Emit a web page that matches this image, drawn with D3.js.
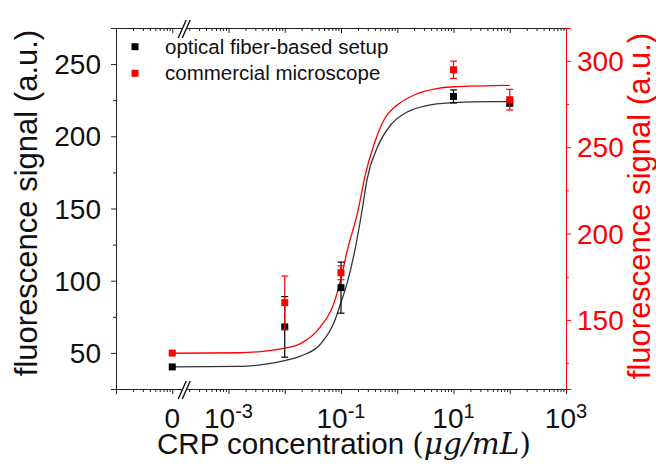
<!DOCTYPE html>
<html>
<head>
<meta charset="utf-8">
<script src="https://cdn.jsdelivr.net/npm/d3@7"></script>
<style>
  body { margin: 0; background: #fff; }
  svg { display: block; font-family: "Liberation Sans", Arial, sans-serif; }
</style>
</head>
<body>
<svg width="656" height="469"></svg>
<script>
// measured points (0 sits on the broken part of the log axis)
const conc = [0, 0.01, 0.1, 10, 100]
const fiberSignal = [40.3, 68, 95.2, 227.6, 223]
const fiberErr = [0, 21, 17.7, 4.5, 2]
const microSignal = [130.8, 160, 177.3, 294.8, 277.5]
const microErr = [0, 15.4, 4, 5, 6]

// fitted curves
const fiberFitConc = [1e-4, 1.6e-3, 4.2e-3, 9.5e-3, 0.019, 0.043, 0.075, 0.098, 0.13, 0.17, 0.24, 0.29, 0.44, 0.77, 1.5, 3.5, 10, 23, 100]
const fiberFitSignal = [40.3, 40.6, 42.0, 44.5, 47.8, 56, 71, 84, 99, 118, 150, 170, 192, 208, 216.8, 221.4, 223.3, 223.9, 224]
const microFitConc = [1e-4, 1.6e-3, 4.9e-3, 9.5e-3, 0.019, 0.043, 0.075, 0.098, 0.13, 0.2, 0.27, 0.39, 0.58, 1.0, 2.0, 4.5, 10, 100]
const microFitSignal = [130.7, 131, 132.1, 133.5, 136.3, 146, 159.7, 173, 190.5, 213, 234, 252, 265.7, 274.4, 280.2, 283.6, 285, 285.8]

const xTickExp = [-3, -1, 1, 3]
const leftTicks = [50, 100, 150, 200, 250]
const leftMinor = [75, 125, 175, 225]
const rightTicks = [150, 200, 250, 300]
const rightMinor = [125, 175, 225, 275]
const seriesNames = ['optical fiber-based setup', 'commercial microscope']

const zeroAt = 1e-4
const breakAt = 1.7e-4
const red = '#ff0000'

const svg = d3.select('svg')
const plot = {left: 116, right: 566, top: 28, bottom: 389}

const x = d3.scaleLog().domain([1e-5, 1e3]).range([plot.left, plot.right])
const yL = d3.scaleLinear().domain([25, 275]).range([plot.bottom, plot.top])
const yR = d3.scaleLinear().domain([110, 319]).range([plot.bottom, plot.top])
const xPos = c => x(c === 0 ? zeroAt : c)

drawChart()

function drawChart() {
    drawAxes()
    drawFit(fiberFitConc, fiberFitSignal, yL, '#333')
    drawFit(microFitConc, microFitSignal, yR, red)
    drawSeries(fiberSignal, fiberErr, yL, '#000')
    drawSeries(microSignal, microErr, yR, red)
    drawBreak(plot.bottom)
    drawBreak(plot.top)
    drawLegend()
}

function drawAxes() {
    const decades = d3.range(-5, 3)
    const minor = []
    decades.forEach(e => { for (let m = 2; m <= 9; m++) minor.push(m * Math.pow(10, e)) })
    const major = d3.range(-5, 4).map(e => Math.pow(10, e))

    // bottom + top x axes (top ticks point into the plot)
    ;[plot.bottom, plot.top].forEach(yy => {
        const g = svg.append('g').attr('transform', `translate(0,${yy})`)
        g.call(d3.axisBottom(x).tickValues(minor).tickSize(3).tickFormat(''))
        g.append('g').call(d3.axisBottom(x).tickValues(major).tickSize(5).tickFormat(''))
        g.selectAll('.domain, line').attr('stroke', '#222')
    })

    // x tick labels
    const xl = svg.append('g').attr('font-size', 28).attr('fill', '#111').attr('text-anchor', 'middle')
    xl.append('text').attr('x', x(zeroAt)).attr('y', 428).text('0')
    xTickExp.forEach(e => {
        const t = xl.append('text').attr('x', x(Math.pow(10, e))).attr('y', 428)
        t.append('tspan').text('10')
        t.append('tspan').attr('font-size', 20).attr('dy', -10).text(e)
    })

    // left axis
    const gl = svg.append('g').attr('transform', `translate(${plot.left},0)`)
    gl.call(d3.axisLeft(yL).tickValues(leftMinor).tickSize(3).tickFormat(''))
    gl.append('g').call(d3.axisLeft(yL).tickValues(leftTicks).tickSize(5).tickFormat(''))
    gl.selectAll('.domain, line').attr('stroke', '#222')
    svg.append('g').selectAll('text').data(leftTicks).join('text')
        .attr('x', 101).attr('y', d => yL(d) + 10)
        .attr('text-anchor', 'end').attr('font-size', 28).attr('fill', '#111')
        .text(d => d)

    // right axis
    const gr = svg.append('g').attr('transform', `translate(${plot.right},0)`)
    gr.call(d3.axisRight(yR).tickValues(rightMinor).tickSize(3).tickFormat(''))
    gr.append('g').call(d3.axisRight(yR).tickValues(rightTicks).tickSize(5).tickFormat(''))
    gr.selectAll('.domain, line').attr('stroke', red)
    svg.append('g').selectAll('text').data(rightTicks).join('text')
        .attr('x', 577).attr('y', d => yR(d) + 10)
        .attr('font-size', 28).attr('fill', red)
        .text(d => d)

    // titles
    svg.append('text')
        .attr('transform', 'translate(37,203) rotate(-90)')
        .attr('text-anchor', 'middle').attr('font-size', 31).attr('fill', '#111')
        .text('fluorescence signal (a.u.)')
    svg.append('text')
        .attr('transform', 'translate(650,206) rotate(-90)')
        .attr('text-anchor', 'middle').attr('font-size', 31).attr('fill', red)
        .text('fluorescence signal (a.u.)')
    const xt = svg.append('text')
        .attr('x', 344).attr('y', 454).attr('text-anchor', 'middle')
        .attr('font-size', 29.5).attr('fill', '#111')
    xt.append('tspan').text('CRP concentration ')
    xt.append('tspan').attr('font-family', '"DejaVu Serif", serif').text('(')
    xt.append('tspan').attr('font-family', '"DejaVu Serif", serif').attr('font-style', 'italic').text('μg/mL')
    xt.append('tspan').attr('font-family', '"DejaVu Serif", serif').text(')')
}

function drawFit(cs, vs, y, color) {
    const line = d3.line()
        .x(d => x(d[0]))
        .y(d => y(d[1]))
        .curve(d3.curveMonotoneX)
    svg.append('path')
        .datum(cs.map((c, i) => [c, vs[i]]))
        .attr('d', line)
        .attr('fill', 'none')
        .attr('stroke', color)
        .attr('stroke-width', 1.3)
}

function drawSeries(vals, errs, y, color) {
    const g = svg.append('g')
    const pts = conc.map((c, i) => ({c: c, v: vals[i], e: errs[i]}))
    const bars = g.selectAll('g.err').data(pts.filter(d => d.e > 0)).join('g').attr('class', 'err')
        .attr('stroke', color).attr('stroke-width', 1.2)
    bars.append('line')
        .attr('x1', d => xPos(d.c)).attr('x2', d => xPos(d.c))
        .attr('y1', d => y(d.v - d.e)).attr('y2', d => y(d.v + d.e))
    ;[-1, 1].forEach(s => {
        bars.append('line')
            .attr('x1', d => xPos(d.c) - 3.5).attr('x2', d => xPos(d.c) + 3.5)
            .attr('y1', d => y(d.v + s * d.e)).attr('y2', d => y(d.v + s * d.e))
    })
    g.selectAll('path.pt').data(pts).join('path').attr('class', 'pt')
        .attr('d', d3.symbol().type(d3.symbolSquare).size(49))
        .attr('transform', d => `translate(${xPos(d.c)},${y(d.v)})`)
        .attr('fill', color)
}

function drawBreak(yy) {
    const cx = x(breakAt)
    const g = svg.append('g')
    g.append('polygon')
        .attr('points', [[cx - 7, yy + 10], [cx + 1, yy - 8], [cx + 5, yy - 8], [cx - 3, yy + 10]].join(' '))
        .attr('fill', '#fff')
    ;[0, 4].forEach(o => {
        g.append('line')
            .attr('x1', cx - 7 + o).attr('y1', yy + 10)
            .attr('x2', cx + 1 + o).attr('y2', yy - 8)
            .attr('stroke', '#111').attr('stroke-width', 1.4)
    })
}

function drawLegend() {
    const colors = ['#000', red]
    const g = svg.append('g')
    seriesNames.forEach((name, i) => {
        const yy = 46.7 + i * 26.6
        g.append('rect').attr('x', 131.5).attr('y', yy - 3.5).attr('width', 7).attr('height', 7).attr('fill', colors[i])
        g.append('text').attr('x', 165).attr('y', yy + 7)
            .attr('font-size', 20.5).attr('fill', '#111').text(name)
    })
}
</script>
</body>
</html>
